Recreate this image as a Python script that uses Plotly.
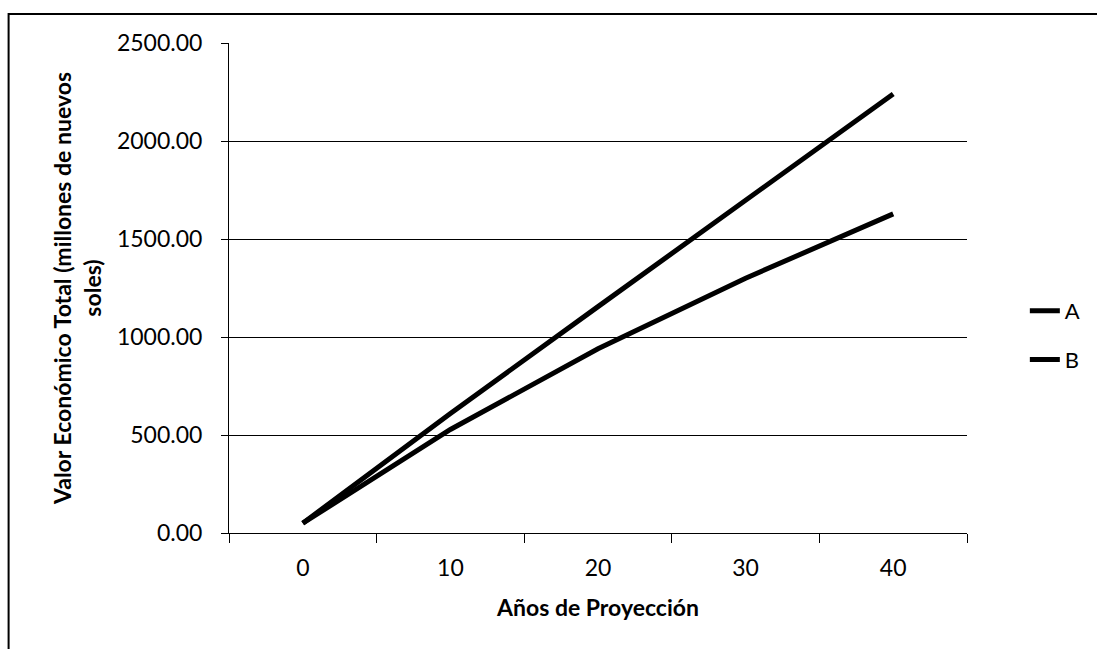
import plotly.graph_objects as go

years = ["0", "10", "20", "30", "40"]
serie_a = [50, 610, 1155, 1695, 2240]
serie_b = [50, 528, 940, 1300, 1628]
series_names = ["A", "B"]
y_ticks = [0, 500, 1000, 1500, 2000, 2500]
y_tick_labels = ["0.00", "500.00", "1000.00", "1500.00", "2000.00", "2500.00"]

FONT = "Lato, 'Open Sans', sans-serif"

fig = go.Figure()
for name, vals in zip(series_names, [serie_a, serie_b]):
    fig.add_trace(go.Scatter(
        x=years, y=vals, mode="lines", name=name, legendgroup=name,
        line=dict(color="black", width=5),
    ))

W, H = 1097, 649
L, R, T, B = 229, 128, 43, 116
pw, ph = W - L - R, H - T - B

fig.update_layout(
    width=W, height=H,
    margin=dict(l=L, r=R, t=T, b=B),
    paper_bgcolor="white", plot_bgcolor="white",
    font=dict(family=FONT, size=24, color="black"),
    showlegend=True,
    legend=dict(x=(1027 - L) / pw, xanchor="left", y=(H - B - 290) / ph, yanchor="top",
                font=dict(size=22), bgcolor="rgba(0,0,0,0)",
                tracegroupgap=17),
    xaxis=dict(
        type="category", range=[-0.5, 4.5],
        showgrid=False, showline=True, linecolor="black", linewidth=1,
        ticks="outside", tickson="boundaries", ticklen=9, tickcolor="black",
        tickfont=dict(size=23), ticklabelstandoff=14,
        title=dict(text="<b>Años de Proyección</b>", font=dict(size=23), standoff=20),
    ),
    yaxis=dict(
        range=[0, 2500], tickvals=y_ticks, ticktext=y_tick_labels,
        showgrid=True, gridcolor="black", gridwidth=1,
        showline=True, linecolor="black", linewidth=1,
        ticks="outside", ticklen=7, tickcolor="black",
        tickfont=dict(size=23), zeroline=False, ticklabelstandoff=14,
        title=dict(text="<b>Valor Económico Total (millones de nuevos<br>soles)</b>",
                   font=dict(size=23), standoff=8),
    ),
    shapes=[dict(
        type="rect", xref="paper", yref="paper",
        x0=(8 - L) / pw, x1=(W + 10 - L) / pw,
        y0=(H - B - (H + 10)) / ph, y1=(H - B - 14) / ph,
        line=dict(color="black", width=2), fillcolor="rgba(0,0,0,0)", layer="below",
    )],
)

fig.write_html("out.html")
